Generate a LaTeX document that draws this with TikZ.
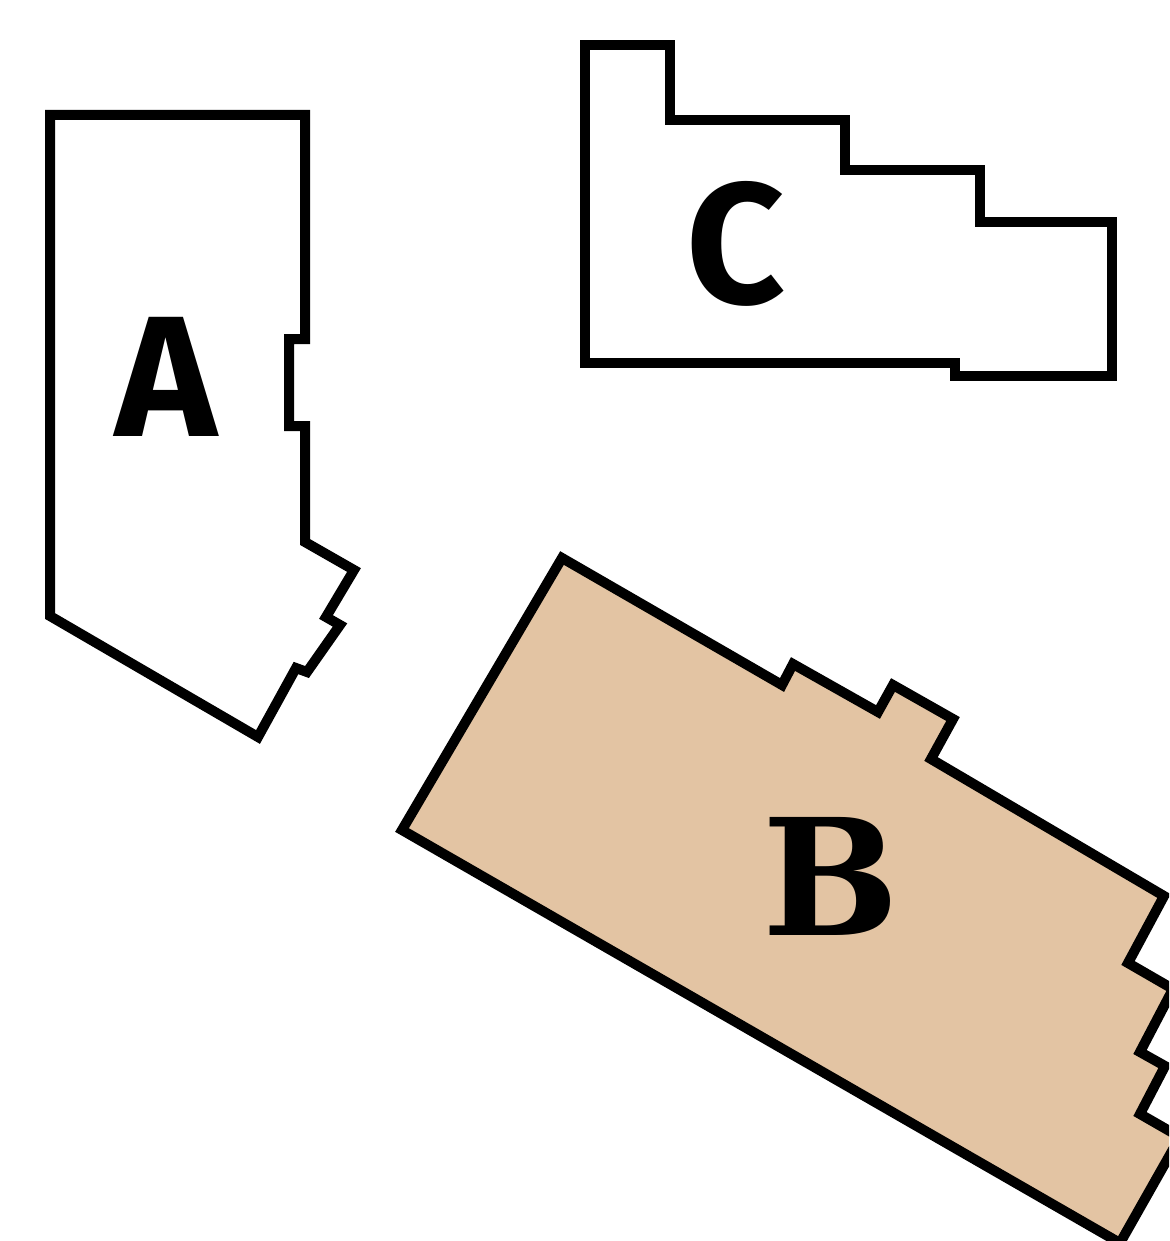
\documentclass[tikz,border=0pt]{standalone}
\usepackage{fontspec}
\usepackage{xcolor}
\usetikzlibrary{positioning}
\setmainfont{Fira Sans}
\newfontfamily\slabfont{DejaVu Serif}
\definecolor{sand}{HTML}{E3C4A3}

\begin{document}
\begin{tikzpicture}[
  x=1pt,y=-1pt,
  outline/.style={draw=black,line width=10pt,line join=miter,miter limit=10},
  plot/.style={outline,fill=white},
  plotB/.style={outline,fill=sand},
  letter/.style={font=\fontsize{172}{172}\selectfont\bfseries,inner sep=0pt},
  slabletter/.style={font=\slabfont\fontsize{162}{162}\selectfont\bfseries,inner sep=0pt}
]
\useasboundingbox (0,0) rectangle (1169,1241);
\clip (0,0) rectangle (1169,1241);
% plot A
\draw[plot] (50,115) -- (305,115) -- (305,339) -- (289,339) -- (289,426) -- (305,426)
  -- (305,542) -- (354,570) -- (326,617) -- (340,625) -- (307,672) -- (296,668)
  -- (258,737) -- (50,616) -- cycle;
% plot C
\draw[plot] (585,45) -- (670,45) -- (670,120) -- (845,120) -- (845,170) -- (980,170)
  -- (980,222) -- (1112,222) -- (1112,376) -- (955,376) -- (955,363) -- (585,363) -- cycle;
% plot B
\draw[plotB] (562,558) -- (782,685) -- (793,664) -- (878,712) -- (893,685) -- (953,719)
  -- (931,759) -- (1164,896) -- (1128,963) -- (1173,989) -- (1140,1052) -- (1165,1066)
  -- (1140,1114) -- (1180,1137) -- (1120,1243) -- (402,830) -- cycle;
% labels
\node[letter] (labA) at (166,377) {A};
\node[letter] (labC) at (736,244) {C};
\node[slabletter] (labB) at (831,876) {B};
\end{tikzpicture}
\end{document}
